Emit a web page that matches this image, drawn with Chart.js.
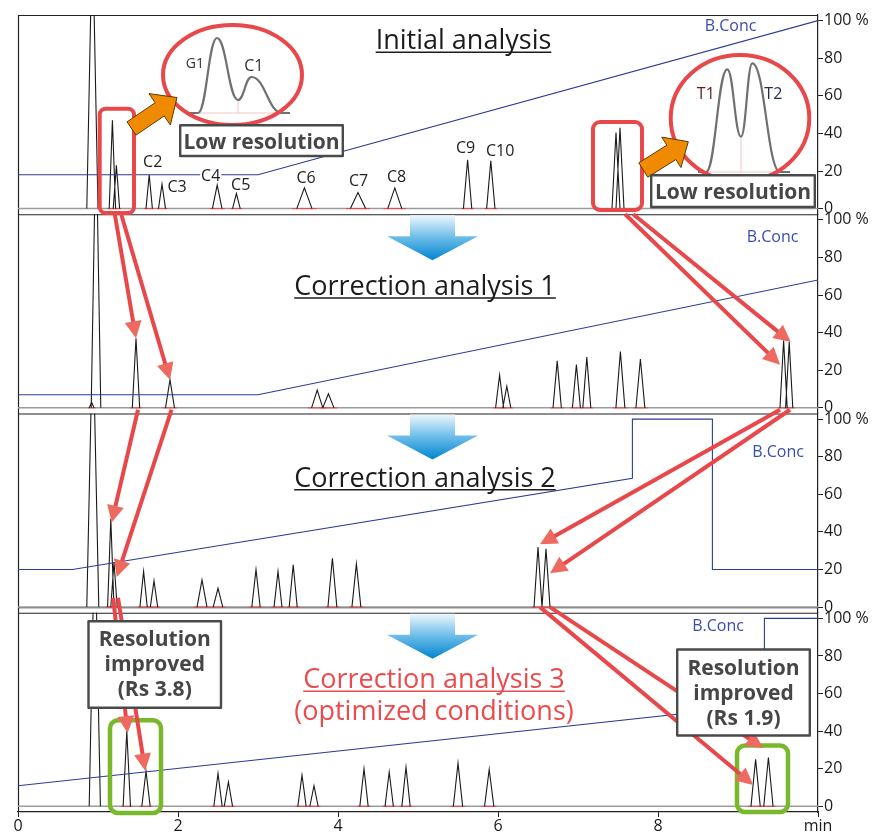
<!DOCTYPE html>
<html>
<head>
<meta charset="utf-8">
<script src="https://cdn.jsdelivr.net/npm/chart.js@4.4.1/dist/chart.umd.min.js"></script>
<style>
  html, body { margin: 0; padding: 0; background: #fff; }
  #wrap { width: 888px; height: 835px; }
</style>
</head>
<body>
<div id="wrap"><canvas id="chromChart" width="888" height="835"></canvas></div>
<script>
// Axis ticks
const timeTicks = [0, 2, 4, 6, 8, 10];
const concTicks = [0, 20, 40, 60, 80, 100];

// Initial analysis: peak retention time (min), height (% of panel), half width (min)
const initTime   = [0.93, 1.18, 1.23, 1.64, 1.80, 2.49, 2.73, 3.58, 4.25, 4.71, 5.62, 5.91, 7.475, 7.525];
const initHeight = [150, 47, 23, 18, 13, 12.5, 8, 11, 8.5, 11, 26, 25.5, 40.5, 43];
const initWidth  = [0.07, 0.04, 0.04, 0.04, 0.044, 0.06, 0.048, 0.095, 0.095, 0.088, 0.052, 0.052, 0.05, 0.05];
const initLabels = ['', '', '', 'C2', 'C3', 'C4', 'C5', 'C6', 'C7', 'C8', 'C9', 'C10', '', ''];
const initConcTime = [0, 3, 10];
const initConc     = [18, 18, 100];

// Correction analysis 1
const corr1Time   = [0.92, 0.975, 1.475, 1.90, 3.74, 3.88, 6.02, 6.11, 6.74, 6.98, 7.11, 7.53, 7.78, 9.57, 9.64];
const corr1Height = [3, 150, 37, 15, 9.5, 7.5, 17.5, 11.5, 25, 23, 27, 30, 26, 36, 35];
const corr1Width  = [0.03, 0.06, 0.046, 0.056, 0.07, 0.07, 0.05, 0.05, 0.052, 0.05, 0.05, 0.056, 0.056, 0.045, 0.045];
const corr1ConcTime = [0, 3, 10];
const corr1Conc     = [7, 7, 68];

// Correction analysis 2
const corr2Time   = [0.935, 1.16, 1.20, 1.57, 1.70, 2.30, 2.50, 2.975, 3.25, 3.44, 3.93, 4.23, 6.50, 6.60];
const corr2Height = [150, 47, 24, 19, 14, 14.5, 10, 20, 19, 22.5, 26, 23, 32, 31];
const corr2Width  = [0.075, 0.04, 0.04, 0.046, 0.046, 0.062, 0.06, 0.052, 0.05, 0.05, 0.056, 0.056, 0.05, 0.05];
const corr2ConcTime = [0, 0.68, 7.68, 7.68, 8.68, 8.68, 10];
const corr2Conc     = [20, 20, 68.5, 100, 100, 20, 20];

// Correction analysis 3 (optimized conditions)
const corr3Time   = [0.96, 1.36, 1.60, 2.50, 2.63, 3.55, 3.70, 4.325, 4.64, 4.85, 5.50, 5.89, 9.22, 9.38];
const corr3Height = [150, 40, 18.7, 17.5, 13, 16.6, 11, 20, 18.3, 20.8, 23, 19.6, 25, 26];
const corr3Width  = [0.07, 0.046, 0.052, 0.052, 0.052, 0.052, 0.052, 0.052, 0.052, 0.052, 0.058, 0.058, 0.058, 0.058];
const corr3ConcTime = [0, 9.33, 9.33, 10];
const corr3Conc     = [11, 54, 100, 100];

const panels = [
  { time: initTime,  height: initHeight,  width: initWidth,  concTime: initConcTime,  conc: initConc },
  { time: corr1Time, height: corr1Height, width: corr1Width, concTime: corr1ConcTime, conc: corr1Conc },
  { time: corr2Time, height: corr2Height, width: corr2Width, concTime: corr2ConcTime, conc: corr2Conc },
  { time: corr3Time, height: corr3Height, width: corr3Width, concTime: corr3ConcTime, conc: corr3Conc },
];

// label nudges (px) for the C2..C10 tags, relative to the apex
const labelDx = { C2: 3.5, C3: 15, C4: -6.5, C5: 4.3, C6: 1.7, C7: 0.5, C8: 1.7, C9: -2, C10: 9.3 };
const labelDy = { C2: -7.3, C3: 7.4, C4: -4.3, C5: -3.3, C6: -5, C7: -6.3, C8: -6, C9: -6.3, C10: -5 };

// red arrows between runs: [fromPanel, time, value, toPanel, time, value]
const redArrows = [
  [0, 1.21, -3, 1, 1.475, 37],
  [0, 1.29, -3, 1, 1.90, 14.9],
  [1, 1.50, -1, 2, 1.17, 45],
  [1, 1.92, -1, 2, 1.234, 16],
  [2, 1.19, 5, 3, 1.37, 39],
  [2, 1.25, 5, 3, 1.59, 19],
  [0, 7.59, -3, 1, 9.525, 23],
  [0, 7.69, -3, 1, 9.66, 35],
  [1, 9.525, -1, 2, 6.525, 33.4],
  [1, 9.65, -1, 2, 6.65, 18],
  [2, 6.525, 0, 3, 9.19, 11.4],
  [2, 6.65, 0, 3, 9.316, 31],
];

const FONT = '"Open Sans", sans-serif';

// ---------- drawing helpers ----------
function seg(ctx, x1, y1, x2, y2) {
  ctx.beginPath(); ctx.moveTo(x1, y1); ctx.lineTo(x2, y2); ctx.stroke();
}

function roundRect(ctx, x1, y1, x2, y2, r) {
  ctx.beginPath();
  ctx.moveTo(x1 + r, y1);
  ctx.lineTo(x2 - r, y1); ctx.arcTo(x2, y1, x2, y1 + r, r);
  ctx.lineTo(x2, y2 - r); ctx.arcTo(x2, y2, x2 - r, y2, r);
  ctx.lineTo(x1 + r, y2); ctx.arcTo(x1, y2, x1, y2 - r, r);
  ctx.lineTo(x1, y1 + r); ctx.arcTo(x1, y1, x1 + r, y1, r);
  ctx.closePath();
}

function text(ctx, str, x, y, font, color, align) {
  ctx.font = font;
  ctx.fillStyle = color;
  ctx.textAlign = align || 'center';
  ctx.textBaseline = 'alphabetic';
  ctx.fillText(str, x, y);
  return ctx.measureText(str).width;
}

function title(ctx, str, x, y, color, underline) {
  const w = text(ctx, str, x, y, '27px ' + FONT, color);
  if (underline) {
    ctx.strokeStyle = color; ctx.lineWidth = 1.5;
    seg(ctx, x - w / 2, y + 3, x + w / 2, y + 3);
  }
}

function noteBox(ctx, x1, y1, x2, y2, lines, baseline, step) {
  ctx.fillStyle = '#fff';
  ctx.fillRect(x1, y1, x2 - x1, y2 - y1);
  ctx.strokeStyle = '#4a4a4a'; ctx.lineWidth = 2.4;
  ctx.strokeRect(x1, y1, x2 - x1, y2 - y1);
  lines.forEach((l, i) => text(ctx, l, (x1 + x2) / 2, baseline + i * step, 'bold 21px ' + FONT, '#464646'));
}

function redArrow(ctx, x1, y1, x2, y2) {
  const len = Math.hypot(x2 - x1, y2 - y1);
  const ux = (x2 - x1) / len, uy = (y2 - y1) / len;
  const hl = 17, hw = 8.5;
  const bx = x2 - ux * hl, by = y2 - uy * hl;
  ctx.strokeStyle = '#e9484b'; ctx.lineWidth = 4; ctx.lineCap = 'butt';
  seg(ctx, x1, y1, bx + ux * 2, by + uy * 2);
  ctx.fillStyle = '#ee6a60';
  ctx.beginPath();
  ctx.moveTo(x2, y2);
  ctx.lineTo(bx - uy * hw, by + ux * hw);
  ctx.lineTo(bx + uy * hw, by - ux * hw);
  ctx.closePath(); ctx.fill();
}

function blockArrow(ctx, tx, ty, hx, hy, sw, hw, hl) {
  const len = Math.hypot(hx - tx, hy - ty);
  const ux = (hx - tx) / len, uy = (hy - ty) / len, nx = -uy, ny = ux;
  const bx = hx - ux * hl, by = hy - uy * hl;
  ctx.beginPath();
  ctx.moveTo(tx + nx * sw / 2, ty + ny * sw / 2);
  ctx.lineTo(bx + nx * sw / 2, by + ny * sw / 2);
  ctx.lineTo(bx + nx * hw / 2, by + ny * hw / 2);
  ctx.lineTo(hx, hy);
  ctx.lineTo(bx - nx * hw / 2, by - ny * hw / 2);
  ctx.lineTo(bx - nx * sw / 2, by - ny * sw / 2);
  ctx.lineTo(tx - nx * sw / 2, ty - ny * sw / 2);
  ctx.closePath();
  ctx.fillStyle = '#f08a00'; ctx.fill();
  ctx.strokeStyle = '#5e3b00'; ctx.lineWidth = 1; ctx.stroke();
}

function smoothThrough(ctx, pts) {
  ctx.beginPath();
  ctx.moveTo(pts[0][0], pts[0][1]);
  for (let i = 1; i < pts.length; i++) {
    const [x0, y0] = pts[i - 1], [x1, y1] = pts[i];
    const k = (x1 - x0) * 0.45;
    ctx.bezierCurveTo(x0 + k, y0, x1 - k, y1, x1, y1);
  }
  ctx.stroke();
}

function magnifier(ctx, cx, cy, rx, ry, curve, valleyX, valleyY, baseY) {
  ctx.beginPath();
  ctx.ellipse(cx, cy, rx, ry, 0, 0, Math.PI * 2);
  ctx.fillStyle = '#fff'; ctx.fill();
  ctx.strokeStyle = '#f2c6c6'; ctx.lineWidth = 1;
  seg(ctx, curve[1][0] - 6, baseY, curve[curve.length - 2][0] + 4, baseY);
  seg(ctx, valleyX, valleyY, valleyX, baseY);
  ctx.strokeStyle = '#707070'; ctx.lineWidth = 2.2; ctx.lineJoin = 'round';
  smoothThrough(ctx, curve);
  ctx.beginPath();
  ctx.ellipse(cx, cy, rx, ry, 0, 0, Math.PI * 2);
  ctx.strokeStyle = '#e9484b'; ctx.lineWidth = 4; ctx.stroke();
}

function blueArrow(ctx, top) {
  const g = ctx.createLinearGradient(0, top, 0, top + 46);
  g.addColorStop(0, '#f4fafd');
  g.addColorStop(0.5, '#6dbde9');
  g.addColorStop(1, '#0085cf');
  ctx.fillStyle = g;
  ctx.beginPath();
  ctx.moveTo(410, top + 1); ctx.lineTo(455, top + 1); ctx.lineTo(455, top + 22);
  ctx.lineTo(478, top + 22); ctx.lineTo(432.5, top + 46); ctx.lineTo(387, top + 22);
  ctx.lineTo(410, top + 22); ctx.closePath();
  ctx.fill();
}

// ---------- plugin: panel frames and annotations ----------
const decor = {
  id: 'decor',
  beforeDatasetsDraw(chart) {
    const { ctx, chartArea: a } = chart;
    ctx.save();
    ctx.strokeStyle = '#222'; ctx.lineWidth = 1.2;
    for (let i = 0; i < panels.length; i++) {
      const s = chart.scales['y' + i];
      seg(ctx, a.left, s.top + 0.5, a.right, s.top + 0.5);
    }
    seg(ctx, a.left, chart.scales.y2.bottom - 5, a.right, chart.scales.y2.bottom - 5);
    seg(ctx, a.left + 0.5, a.top, a.left + 0.5, a.bottom);
    ctx.restore();
  },
  afterDraw(chart) {
    const ctx = chart.ctx;
    const px = (p, t, v) => [chart.scales.x.getPixelForValue(t), chart.scales['y' + p].getPixelForValue(v)];
    ctx.save();

    // blue "next step" arrows
    for (let i = 1; i < panels.length; i++) blueArrow(ctx, chart.scales['y' + i].top);

    // titles
    title(ctx, 'Initial analysis', 463.5, 49.3, '#1c1c1c', true);
    title(ctx, 'Correction analysis 1', 425, 295, '#1c1c1c', true);
    title(ctx, 'Correction analysis 2', 425, 486.7, '#1c1c1c', true);
    title(ctx, 'Correction analysis 3', 434, 688.3, '#ec4a4c', true);
    title(ctx, '(optimized conditions)', 434, 720, '#ec4a4c', false);

    // B.Conc tags
    const bFont = '16px ' + FONT, bCol = '#3a4ea8';
    text(ctx, 'B.Conc', 730.5, 30.7, bFont, bCol);
    text(ctx, 'B.Conc', 772.5, 242.3, bFont, bCol);
    text(ctx, 'B.Conc', 778, 457.3, bFont, bCol);
    text(ctx, 'B.Conc', 718, 630.7, bFont, bCol);

    // peak tags in the initial run
    initLabels.forEach((lab, k) => {
      if (!lab) return;
      const [x, y] = px(0, initTime[k], initHeight[k]);
      const lx = x + labelDx[lab], ly = y + labelDy[lab];
      ctx.font = '16px ' + FONT;
      const w = ctx.measureText(lab).width;
      ctx.fillStyle = '#fff';
      ctx.fillRect(lx - w / 2 - 1, ly - 12.5, w + 2, 14);
      text(ctx, lab, lx, ly, '16px ' + FONT, '#222');
    });

    // low-resolution highlights
    ctx.strokeStyle = '#e9484b'; ctx.lineWidth = 4;
    roundRect(ctx, 99.7, 108.7, 134, 213, 6); ctx.stroke();
    roundRect(ctx, 593, 122, 642, 210, 7); ctx.stroke();

    magnifier(ctx, 232.5, 75, 69.5, 50,
      [[186, 113], [198, 113], [217, 38], [238, 100], [251.5, 77], [282, 113], [290, 113]], 238, 100, 113);
    text(ctx, 'G1', 194.8, 68.3, '14px ' + FONT, '#333');
    text(ctx, 'C1', 253.8, 71, '16px ' + FONT, '#333');

    magnifier(ctx, 740, 118.3, 69.3, 63.3,
      [[698, 172], [706, 172], [727.3, 69.3], [741, 136.7], [752.3, 63.3], [780, 172], [790, 172]], 741, 136.7, 172);
    text(ctx, 'T1', 705.8, 99.3, '16px ' + FONT, '#5a1e1e');
    text(ctx, 'T2', 773.3, 99.3, '16px ' + FONT, '#1e2e4a');

    blockArrow(ctx, 131.5, 128.5, 177, 97.5, 16, 38, 21);
    blockArrow(ctx, 643.3, 170, 688.3, 141.7, 17, 36, 20);

    noteBox(ctx, 180.2, 125.2, 342.8, 156, ['Low resolution'], 149, 0);
    noteBox(ctx, 651.2, 175.2, 814.8, 207, ['Low resolution'], 199, 0);

    // improved-resolution highlights
    ctx.strokeStyle = '#79b82a'; ctx.lineWidth = 4.5;
    roundRect(ctx, 110, 720.3, 161, 813, 8); ctx.stroke();
    roundRect(ctx, 737, 745.5, 788, 812, 8); ctx.stroke();

    redArrows.forEach(a => {
      const [x1, y1] = px(a[0], a[1], a[2]);
      const [x2, y2] = px(a[3], a[4], a[5]);
      redArrow(ctx, x1, y1, x2, y2);
    });

    noteBox(ctx, 88.5, 621.2, 221, 707.8, ['Resolution', 'improved', '(Rs 3.8)'], 645.7, 25);
    noteBox(ctx, 677.2, 649.5, 809.8, 735.5, ['Resolution', 'improved', '(Rs 1.9)'], 675, 25);

    ctx.restore();
  }
};

// ---------- datasets ----------
function buildDatasets() {
  const out = [];
  panels.forEach((p, i) => {
    const yId = 'y' + i;
    const trace = [], marks = [];
    p.time.forEach((t, k) => {
      const w = p.width[k];
      trace.push({ x: t - w, y: 0 }, { x: t, y: p.height[k] }, { x: t + w, y: 0 }, { x: t + w, y: null });
      if (p.height[k] < 100) {
        marks.push({ x: t - 1.6 * w, y: 0 }, { x: t + 1.6 * w, y: 0 }, { x: t + 1.6 * w, y: null });
      }
    });
    out.push({
      label: 'B.Conc ' + i, yAxisID: yId, order: 0,
      data: p.concTime.map((t, k) => ({ x: t, y: p.conc[k] })),
      borderColor: '#2b3d97', borderWidth: 1.1
    });
    out.push({ label: 'Signal ' + i, yAxisID: yId, order: 1, data: trace, borderColor: '#1a1a1a', borderWidth: 1.1 });
    out.push({ label: 'Integration ' + i, yAxisID: yId, order: 2, data: marks, borderColor: '#e8474a', borderWidth: 1 });
    out.push({
      label: 'Baseline ' + i, yAxisID: yId, order: 3,
      data: [{ x: 0, y: 0 }, { x: 10, y: 0 }], borderColor: '#9b9b9b', borderWidth: 1.5
    });
  });
  return out;
}

function yScale(i) {
  return {
    type: 'linear', position: 'right', stack: 'panels', stackWeight: 1,
    min: -3, max: 103,
    afterBuildTicks: s => { s.ticks = concTicks.map(v => ({ value: v })); },
    afterFit: s => { s.width = 70; },
    ticks: {
      callback: v => (v === 100 ? '100 %' : v),
      autoSkip: false, padding: 1, color: '#1a1a1a', font: { size: 16 }
    },
    grid: { drawOnChartArea: false, tickLength: 5, color: '#222' },
    border: { display: true, color: '#222', width: 1.2 }
  };
}

function build() {
  Chart.defaults.font.family = FONT;
  const scales = {
    x: {
      type: 'linear', min: 0, max: 10,
      afterBuildTicks: s => { s.ticks = timeTicks.map(v => ({ value: v })); },
      afterFit: s => { s.height = 23; },
      ticks: {
        callback: v => (v === 10 ? 'min' : v),
        autoSkip: false, maxRotation: 0, padding: 0, color: '#1a1a1a', font: { size: 16 }
      },
      grid: { drawOnChartArea: false, tickLength: 5, color: '#222' },
      border: { display: true, color: '#222', width: 1.2 }
    }
  };
  panels.forEach((p, i) => { scales['y' + i] = yScale(i); });

  new Chart(document.getElementById('chromChart'), {
    type: 'line',
    data: { datasets: buildDatasets() },
    options: {
      responsive: false,
      animation: false,
      layout: { padding: { top: 15, left: 18, right: 0, bottom: 0 } },
      elements: { point: { radius: 0 }, line: { tension: 0, fill: false } },
      spanGaps: false,
      plugins: { legend: { display: false }, tooltip: { enabled: false } },
      scales: scales
    },
    plugins: [decor]
  });
}

Promise.all([
  document.fonts.load('27px "Open Sans"'),
  document.fonts.load('bold 21px "Open Sans"')
]).then(build).catch(build);
</script>
</body>
</html>
